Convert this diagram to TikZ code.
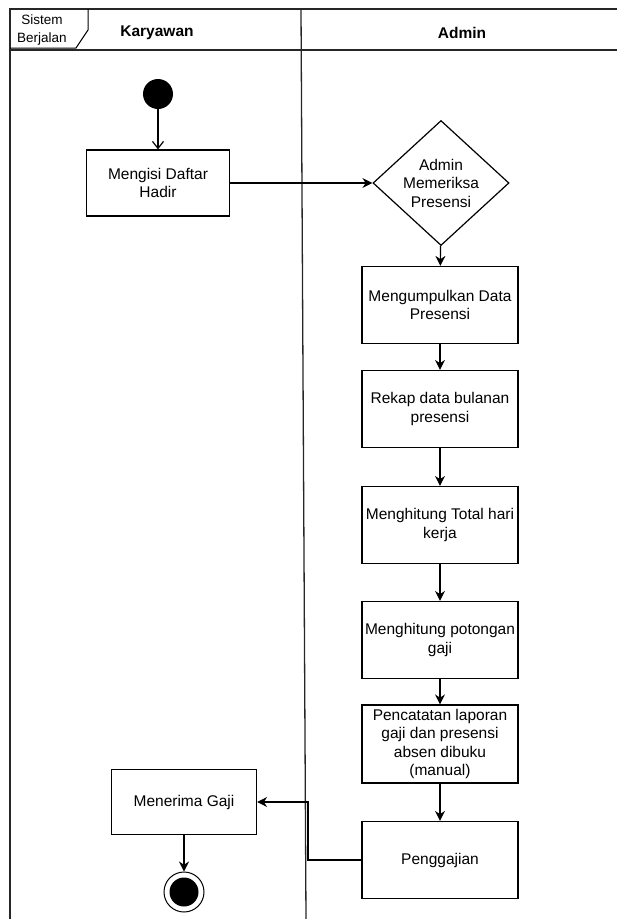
\documentclass[tikz,border=0pt]{standalone}
\usepackage{fontspec}
\setmainfont{Liberation Sans}
\usetikzlibrary{shapes.geometric,arrows.meta}

\begin{document}
\begin{tikzpicture}[x=1pt,y=-1pt,
	lane/.style={line width=1.3pt,color=black!85},
	act/.style={draw,line width=1.2pt,minimum width=156pt,minimum height=77pt,inner sep=1pt,align=center,font=\fontsize{15.5}{18.5}\selectfont},
	flow/.style={line width=1.2pt,-{Stealth[length=10pt,width=10pt]}}]
	\useasboundingbox (0,0) rectangle (617,919);
	% swimlanes
	\draw [lane] (617,9) -- (10,9) -- (10,919);
	\draw [lane] (10,50) -- (617,50);
	\draw [lane] (301,9) -- (306,919);
	\draw [line width=1pt] (10,48) -- (76,48) -- (88,30) -- (88,9);
	\node [font=\fontsize{13.5}{18}\selectfont,align=center] (tab) at (42,30) {Sistem\\Berjalan};
	\node [font=\bfseries\fontsize{15.5}{16}\selectfont] (kar) at (157,33) {Karyawan};
	\node [font=\bfseries\fontsize{15.5}{16}\selectfont] (adm) at (462,33) {Admin};
	% karyawan
	\node [circle,fill=black,minimum size=30pt,inner sep=0pt] (start) at (158,94) {};
	\node [act,minimum width=143pt,minimum height=66pt] (isi) at (158,183) {Mengisi Daftar\\Hadir};
	\node [act,minimum width=145pt,minimum height=65pt] (terima) at (184,802) {Menerima Gaji};
	\node [circle,draw,line width=1pt,minimum size=40pt,inner sep=0pt] (stop) at (184,892) {};
	\node [circle,fill=black,minimum size=29pt,inner sep=0pt] (stopin) at (stop) {};
	% admin
	\node [diamond,draw,line width=1.2pt,minimum width=136pt,minimum height=125pt,inner sep=0pt,align=center,font=\fontsize{15.5}{18.5}\selectfont] (periksa) at (441,183) {Admin\\Memeriksa\\Presensi};
	\node [act] (kumpul) at (440,305) {Mengumpulkan Data\\Presensi};
	\node [act] (rekap) at (440,409) {Rekap data bulanan\\presensi};
	\node [act] (total) at (440,525) {Menghitung Total hari\\kerja};
	\node [act] (potong) at (440,640) {Menghitung potongan\\gaji};
	\node [act,minimum height=78pt] (catat) at (440,744) {Pencatatan laporan\\gaji dan presensi\\absen dibuku\\(manual)};
	\node [act] (gaji) at (440,860) {Penggajian};
	% alur
	\draw [line width=1.2pt,-{Straight Barb[length=7pt,width=11pt]}] (start) -- (isi);
	\draw [flow] (isi) -- (periksa);
	\draw [flow] (periksa) -- (kumpul);
	\draw [flow] (kumpul) -- (rekap);
	\draw [flow] (rekap) -- (total);
	\draw [flow] (total) -- (potong);
	\draw [flow] (potong) -- (catat);
	\draw [flow] (catat) -- (gaji);
	\draw [flow] (gaji.west) -- (308,860) -- (308,802) -- (terima.east);
	\draw [flow] (terima) -- (stop);
\end{tikzpicture}
\end{document}
